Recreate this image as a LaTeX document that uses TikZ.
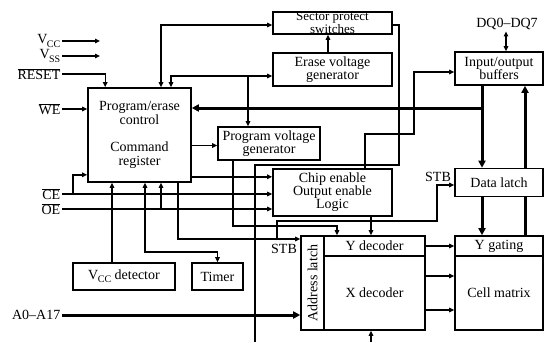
\documentclass[tikz,border=0pt]{standalone}
\usepackage{fontspec}
\setmainfont{Liberation Serif}
\usetikzlibrary{arrows.meta}
\newcommand{\ovl}[1]{$\overline{\mbox{#1}}$}
\newcommand{\vsub}[2]{#1\kern-0.5pt\raisebox{-0.5ex}{\fontsize{10}{10}\selectfont #2}}
\begin{document}
\begin{tikzpicture}[x=1pt,y=-1pt,line width=1.4pt,>={Triangle[length=5pt,width=4.5pt]},
  blk/.style={draw, line width=1.6pt, inner sep=0pt, align=center, font=\fontsize{14}{13.5}\selectfont},
  lbl/.style={inner sep=1pt, font=\fontsize{14}{12}\selectfont},
  bus/.style={line width=3pt, >={Triangle[length=7pt,width=7pt]}}]
\useasboundingbox (0,0) rectangle (545,342);
% blocks
\node[blk, minimum width=119pt, minimum height=22pt, font=\fontsize{13}{10}\selectfont] (sect) at (332.5,23) {Sector protect\\switches};
\node[blk, minimum width=119pt, minimum height=33pt] (erase) at (332.5,69.5) {Erase voltage\\generator};
\node[blk, minimum width=103pt, minimum height=94pt] (ctrl) at (139.5,135) {Program/erase\\control\\[14pt]Command\\register};
\node[blk, minimum width=102pt, minimum height=33pt] (pvg) at (269,143.5) {Program voltage\\generator};
\node[blk, minimum width=119pt, minimum height=47pt, font=\fontsize{14}{13}\selectfont] (ceoe) at (332.5,192.5) {Chip enable\\Output enable\\Logic};
\node[blk, minimum width=88pt, minimum height=33pt] (iob) at (499,68.5) {Input/output\\buffers};
\node[blk, minimum width=88pt, minimum height=28pt] (dlat) at (499,182.5) {Data latch};
\node[blk, minimum width=23pt, minimum height=94pt] (latch) at (312.5,283) {\rotatebox{90}{Address latch}};
\node[blk, minimum width=101pt, minimum height=20pt] (ydec) at (374.5,246) {Y decoder};
\node[blk, minimum width=101pt, minimum height=74pt] (xdec) at (374.5,293) {X decoder};
\node[blk, minimum width=88pt, minimum height=20pt] (ygate) at (499,246) {Y gating};
\node[blk, minimum width=88pt, minimum height=74pt] (cell) at (499,293) {Cell matrix};
\node[blk, minimum width=102pt, minimum height=27pt] (vccd) at (124,276.5) {\vsub{V}{CC} detector};
\node[blk, minimum width=51pt, minimum height=27pt] (timer) at (217.5,276.5) {Timer};
% pins
\node[lbl, anchor=east] (vcc) at (62,41) {\vsub{V}{CC}};
\node[lbl, anchor=east] (vss) at (62,56) {\vsub{V}{SS}};
\node[lbl, anchor=east] (reset) at (62,74) {\ovl{RESET}};
\node[lbl, anchor=east] (we) at (62,109) {\ovl{WE}};
\node[lbl, anchor=east] (ce) at (62,194) {\ovl{CE}};
\node[lbl, anchor=east] (oe) at (62,209) {\ovl{OE}};
\node[lbl, anchor=east] (addr) at (62,315) {A0--A17};
\node[lbl] (dq) at (507,24) {DQ0--DQ7};
\node[lbl] (stba) at (284,249) {STB};
\node[lbl] (stbd) at (438,177) {STB};
% bend points
\coordinate (vccend) at (100,41);
\coordinate (vssend) at (100,56);
\coordinate (ceb) at (73,194);
\coordinate (oeb) at (161,209);
\coordinate (c176) at ([yshift=6pt]ctrl.south east);
\coordinate (pv1) at ([yshift=-2pt]pvg.west);
\coordinate (vdx) at (112,0);
\coordinate (tm) at (145,252);
\coordinate (stb0) at (178,239);
\coordinate (stb1) at (277,239);
\coordinate (stb2) at (437,221);
\coordinate (stb3) at (437,185);
\coordinate (pvb) at (233,226);
\coordinate (cy) at (371,0);
\coordinate (ci1) at (365,134);
\coordinate (ci2) at (414,72);
\coordinate (sp0) at (161,25);
\coordinate (sp1) at (399,165);
\coordinate (spend) at (255,342);
\coordinate (ev0) at (171,76);
\coordinate (ev1) at (248,76);
\coordinate (es) at (328,0);
\coordinate (bj) at (482,108);
\coordinate (br) at (525,0);
\coordinate (dqx) at (506,0);
\coordinate (x1) at ([yshift=17pt]xdec.east);
\coordinate (x2) at ([yshift=-17pt]xdec.east);
\coordinate (bot) at (371,342);
% control side
\draw[->] (vcc.east) -- (vccend);
\draw[->] (vss.east) -- (vssend);
\draw[->] (reset.east) -| ([xshift=18pt]ctrl.north west);
\draw[->] (we.east) -- (we -| ctrl.west);
\draw[->] (ce.east) -- (ce -| ceoe.west);
\draw[->] (ceb) |- ([yshift=8pt]ctrl.south west);
\draw[->] (oe.east) -- (oe -| ceoe.west);
\draw[->] (oeb) -- (oeb |- ctrl.south);
\draw[->] (c176) -- (c176 -| ceoe.west);
\draw[->] (pv1 -| ctrl.east) -- (pv1);
\draw[->] (vccd.north -| vdx) -- (ctrl.south -| vdx);
\draw[<->] (ctrl.south -| tm) -- (tm) -| (timer.north);
\draw[->] (ctrl.south -| stb0) |- (latch.west |- stb0);
\draw[->] (stb1) |- (stb2) |- (dlat.west |- stb3);
\draw[->] (pvg.south -| pvb) -- (pvb) -| ([xshift=-37.5pt]ydec.north);
\draw[->] (ceoe.south -| cy) -- (ydec.north -| cy);
\draw[->] (ceoe.north -| ci1) -- (ci1) -| (ci2) -- (ci2 -| iob.west);
\draw ([yshift=-2pt]sect.east) -| (sp1) -| (spend);
\draw[<->] (ctrl.north -| sp0) -- (sp0) -- (sp0 -| sect.west);
\draw[<->] (ctrl.north -| ev0) -- (ev0) -- (ev0 -| erase.west);
\draw[->] (ev1) -- (ev1 |- pvg.north);
\draw[->] (erase.north -| es) -- (sect.south -| es);
% data side
\draw[bus,->] (iob.south -| bj) -- (dlat.north -| bj);
\draw[bus,->] (bj) -- (bj -| ctrl.east);
\draw[bus,->] (dlat.north -| br) -- (iob.south -| br);
\draw[bus,->] (dlat.south -| bj) -- (ygate.north -| bj);
\draw[bus] (ygate.north -| br) -- (dlat.south -| br);
\draw[line width=2.4pt,<->] (dq.south -| dqx) -- (iob.north -| dqx);
\draw[->] (ydec.east) -- (ygate.west);
\draw[->] (x1) -- (x1 -| cell.west);
\draw[->] (x2) -- (x2 -| cell.west);
\draw[bus,->] (addr.east) -- (addr -| latch.west);
\draw[->] (bot) -- (bot |- xdec.south);
\end{tikzpicture}
\end{document}
